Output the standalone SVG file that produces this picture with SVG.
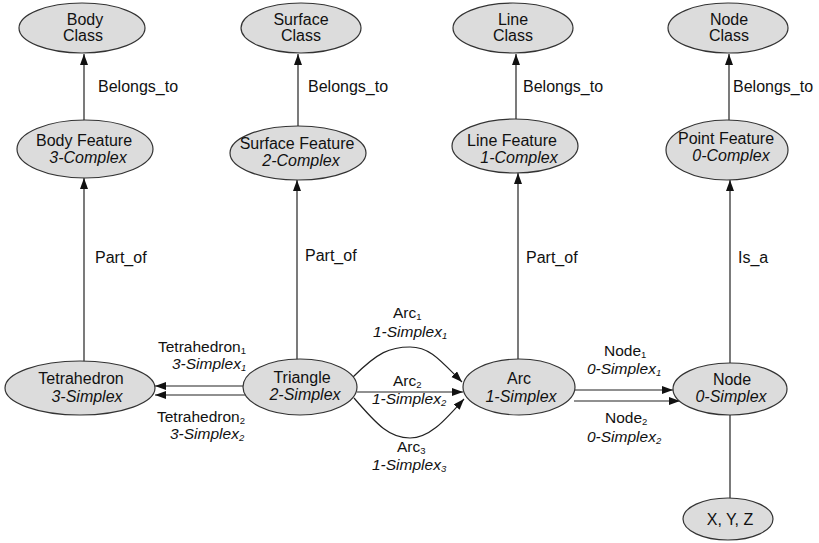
<svg xmlns="http://www.w3.org/2000/svg" width="819" height="543" viewBox="0 0 819 543">
<style>
  .n { fill: #dcdcdc; stroke: #333; stroke-width: 1.2; }
  text { font-family: "Liberation Sans", Arial, sans-serif; font-size: 16px; fill: #111; }
  .c { text-anchor: middle; }
  .i { font-style: italic; }
  .e { stroke: #222; stroke-width: 1.2; fill: none; }
  .a { marker-end: url(#arr); }
  .l { font-size: 15.5px; }
  .s { font-size: 9.5px; }
</style>
<defs>
  <marker id="arr" markerUnits="userSpaceOnUse" markerWidth="12" markerHeight="10" refX="11" refY="4" orient="auto">
    <path d="M0,0 L11,4 L0,8 Z" fill="#111"/>
  </marker>
</defs>
<rect width="819" height="543" fill="#fff"/>
<g id="connectors">
  <line class="e a" x1="84" y1="121" x2="84" y2="54"/>
  <line class="e a" x1="298" y1="127" x2="298" y2="54"/>
  <line class="e a" x1="516" y1="119" x2="516" y2="54"/>
  <line class="e a" x1="729" y1="120" x2="729" y2="54"/>
  <line class="e a" x1="84" y1="362" x2="84" y2="178"/>
  <line class="e a" x1="297" y1="360" x2="297" y2="180"/>
  <line class="e a" x1="518" y1="359" x2="518" y2="173"/>
  <line class="e a" x1="730" y1="363" x2="730" y2="180"/>
  <line class="e" x1="730" y1="415" x2="730" y2="498"/>
  <line class="e a" x1="243" y1="386" x2="155" y2="386"/>
  <line class="e a" x1="245" y1="395" x2="155" y2="395"/>
  <line class="e a" x1="357" y1="392" x2="463" y2="392"/>
  <path class="e a" d="M353 377 C378 352 390 347 410 347 C430 347 440 360 462 382"/>
  <path class="e a" d="M354 398 C378 426 390 438 410 438 C430 438 445 420 464 399"/>
  <line class="e a" x1="575" y1="390" x2="673" y2="390"/>
  <line class="e a" x1="574" y1="401" x2="680" y2="401"/>
  <text x="98" y="92">Belongs_to</text>
  <text x="308" y="92">Belongs_to</text>
  <text x="523" y="92">Belongs_to</text>
  <text x="733" y="92">Belongs_to</text>
  <text x="95" y="263">Part_of</text>
  <text x="305" y="261">Part_of</text>
  <text x="526" y="263">Part_of</text>
  <text x="738" y="263">Is_a</text>
  <text class="l" x="158" y="352">Tetrahedron<tspan class="s" dy="2">1</tspan></text>
  <text class="l i" x="172" y="369">3-Simplex<tspan class="s" dy="2">1</tspan></text>
  <text class="l" x="157" y="422">Tetrahedron<tspan class="s" dy="2">2</tspan></text>
  <text class="l i" x="170" y="439">3-Simplex<tspan class="s" dy="2">2</tspan></text>
  <text class="l" x="393" y="318">Arc<tspan class="s" dy="2">1</tspan></text>
  <text class="l i" x="373" y="337">1-Simplex<tspan class="s" dy="2">1</tspan></text>
  <text class="l" x="393" y="386">Arc<tspan class="s" dy="2">2</tspan></text>
  <text class="l i" x="372" y="404">1-Simplex<tspan class="s" dy="2">2</tspan></text>
  <text class="l" x="397" y="452">Arc<tspan class="s" dy="2">3</tspan></text>
  <text class="l i" x="372" y="470">1-Simplex<tspan class="s" dy="2">3</tspan></text>
  <text class="l" x="604" y="356">Node<tspan class="s" dy="2">1</tspan></text>
  <text class="l i" x="587" y="374">0-Simplex<tspan class="s" dy="2">1</tspan></text>
  <text class="l" x="605" y="423">Node<tspan class="s" dy="2">2</tspan></text>
  <text class="l i" x="587" y="442">0-Simplex<tspan class="s" dy="2">2</tspan></text>
</g>
<g id="body-class">
  <ellipse class="n" cx="82" cy="28" rx="63" ry="25"/>
  <text class="c" x="85" y="25">Body</text>
  <text class="c" x="83" y="41">Class</text>
</g>
<g id="surface-class">
  <ellipse class="n" cx="301" cy="28" rx="60" ry="25"/>
  <text class="c" x="301" y="25">Surface</text>
  <text class="c" x="301" y="41">Class</text>
</g>
<g id="line-class">
  <ellipse class="n" cx="513" cy="28" rx="60" ry="25"/>
  <text class="c" x="513" y="25">Line</text>
  <text class="c" x="513" y="41">Class</text>
</g>
<g id="node-class">
  <ellipse class="n" cx="728" cy="28" rx="60" ry="25"/>
  <text class="c" x="729" y="25">Node</text>
  <text class="c" x="729" y="41">Class</text>
</g>
<g id="body-feature">
  <ellipse class="n" cx="85" cy="149" rx="68" ry="29"/>
  <text class="c" x="84" y="146">Body Feature</text>
  <text class="c i" x="88" y="163">3-Complex</text>
</g>
<g id="surface-feature">
  <ellipse class="n" cx="298" cy="153" rx="68" ry="27"/>
  <text class="c" x="297" y="149">Surface Feature</text>
  <text class="c i" x="301" y="166">2-Complex</text>
</g>
<g id="line-feature">
  <ellipse class="n" cx="515" cy="146" rx="63" ry="27"/>
  <text class="c" x="512" y="146">Line Feature</text>
  <text class="c i" x="519" y="163">1-Complex</text>
</g>
<g id="point-feature">
  <ellipse class="n" cx="727" cy="150" rx="61" ry="30"/>
  <text class="c" x="726" y="144">Point Feature</text>
  <text class="c i" x="731" y="161">0-Complex</text>
</g>
<g id="tetrahedron">
  <ellipse class="n" cx="80" cy="388" rx="75" ry="27"/>
  <text class="c" x="81" y="384">Tetrahedron</text>
  <text class="c i" x="87" y="402">3-Simplex</text>
</g>
<g id="triangle">
  <ellipse class="n" cx="300" cy="387" rx="57" ry="28"/>
  <text class="c" x="302" y="383">Triangle</text>
  <text class="c i" x="305" y="400">2-Simplex</text>
</g>
<g id="arc">
  <ellipse class="n" cx="519" cy="387" rx="56" ry="28"/>
  <text class="c" x="519" y="384">Arc</text>
  <text class="c i" x="521" y="402">1-Simplex</text>
</g>
<g id="node">
  <ellipse class="n" cx="730" cy="389" rx="57" ry="26"/>
  <text class="c" x="732" y="385">Node</text>
  <text class="c i" x="731" y="402">0-Simplex</text>
</g>
<g id="xyz">
  <ellipse class="n" cx="728" cy="519" rx="45" ry="21"/>
  <text class="c" x="730" y="525">X, Y, Z</text>
</g>
</svg>
